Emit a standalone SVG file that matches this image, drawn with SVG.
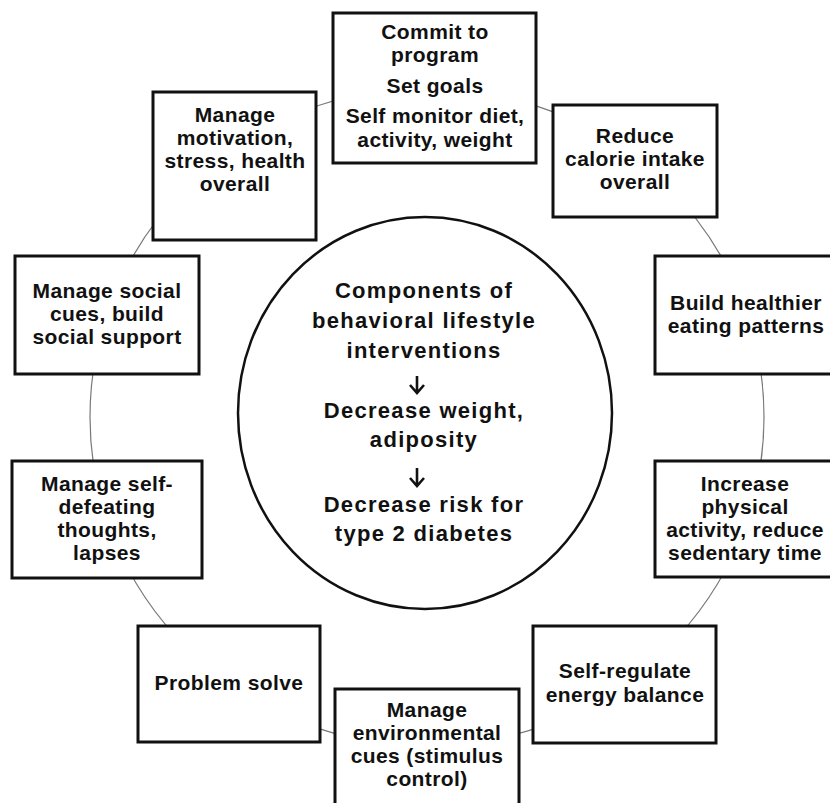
<svg xmlns="http://www.w3.org/2000/svg" width="830" height="803" viewBox="0 0 830 803">
<style>
.box{fill:#fff;stroke:#111;stroke-width:3}
.t{font-family:"Liberation Sans",Arial,sans-serif;font-weight:bold;font-size:21px;fill:#111;text-anchor:middle}
.w{letter-spacing:0.4px}
.c{font-size:22px;letter-spacing:1.3px}
.conn{fill:none;stroke:#777;stroke-width:1.2}
.arr{fill:none;stroke:#111;stroke-width:2.6}
</style>
<rect width="830" height="803" fill="#fff"/>
<g id="connectors">
<ellipse class="conn" cx="427" cy="417" rx="337" ry="329"/>
</g>
<g id="center">
<ellipse cx="425" cy="413" rx="187" ry="196" fill="#fff" stroke="#111" stroke-width="2.5"/>
<text class="t c" x="424" y="298">Components of</text>
<text class="t c" x="424" y="328">behavioral lifestyle</text>
<text class="t c" x="424" y="358">interventions</text>
<path class="arr" d="M417,376 V393 M410,385 L417,393 L424,385"/>
<text class="t c" x="424" y="418">Decrease weight,</text>
<text class="t c" x="424" y="447">adiposity</text>
<path class="arr" d="M417,468 V486 M410,478 L417,486 L424,478"/>
<text class="t c" x="424" y="512">Decrease risk for</text>
<text class="t c" x="424" y="541">type 2 diabetes</text>
</g>
<g id="commit">
<rect class="box" x="333" y="13" width="203" height="150"/>
<text class="t w" x="435" y="39">Commit to</text>
<text class="t w" x="435" y="62">program</text>
<text class="t w" x="435" y="93">Set goals</text>
<text class="t w" x="435" y="123">Self monitor diet,</text>
<text class="t w" x="435" y="147">activity, weight</text>
</g>
<g id="reduce">
<rect class="box" x="553" y="105" width="164" height="112"/>
<text class="t w" x="635" y="143">Reduce</text>
<text class="t w" x="635" y="166">calorie intake</text>
<text class="t w" x="635" y="189">overall</text>
</g>
<g id="build">
<rect class="box" x="655" y="256" width="185" height="118"/>
<text class="t w" x="746" y="310">Build healthier</text>
<text class="t w" x="746" y="333">eating patterns</text>
</g>
<g id="increase">
<rect class="box" x="655" y="461" width="185" height="116"/>
<text class="t w" x="745" y="491">Increase</text>
<text class="t w" x="745" y="514">physical</text>
<text class="t w" x="745" y="537">activity, reduce</text>
<text class="t w" x="745" y="560">sedentary time</text>
</g>
<g id="selfregulate">
<rect class="box" x="533" y="626" width="183" height="117"/>
<text class="t w" x="625" y="678">Self-regulate</text>
<text class="t w" x="625" y="702">energy balance</text>
</g>
<g id="environmental">
<rect class="box" x="335" y="689" width="184" height="126"/>
<text class="t w" x="427" y="717">Manage</text>
<text class="t w" x="427" y="740">environmental</text>
<text class="t w" x="427" y="763">cues (stimulus</text>
<text class="t w" x="427" y="786">control)</text>
</g>
<g id="problem">
<rect class="box" x="138" y="626" width="182" height="116"/>
<text class="t w" x="229" y="690">Problem solve</text>
</g>
<g id="selfdefeating">
<rect class="box" x="12" y="461" width="190" height="117"/>
<text class="t w" x="107" y="491">Manage self-</text>
<text class="t w" x="107" y="514">defeating</text>
<text class="t w" x="107" y="537">thoughts,</text>
<text class="t w" x="107" y="560">lapses</text>
</g>
<g id="social">
<rect class="box" x="15" y="256" width="184" height="118"/>
<text class="t w" x="107" y="298">Manage social</text>
<text class="t w" x="107" y="321">cues, build</text>
<text class="t w" x="107" y="344">social support</text>
</g>
<g id="motivation">
<rect class="box" x="153" y="92" width="163" height="148"/>
<text class="t w" x="235" y="122">Manage</text>
<text class="t w" x="235" y="145">motivation,</text>
<text class="t w" x="235" y="168">stress, health</text>
<text class="t w" x="235" y="191">overall</text>
</g>
</svg>
